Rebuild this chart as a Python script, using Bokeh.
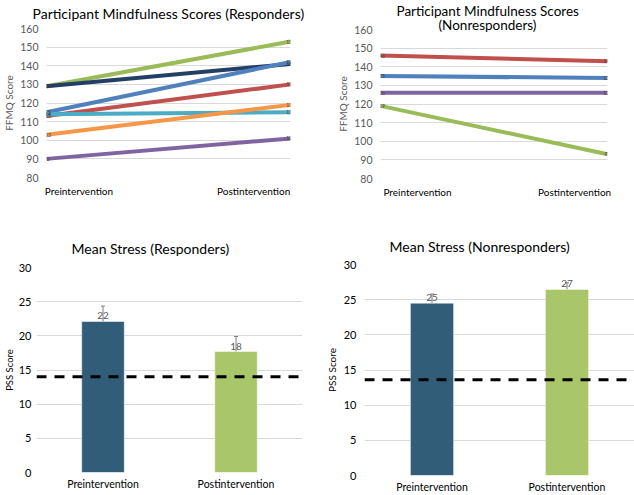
from bokeh.plotting import figure
from bokeh.layouts import column, row
from bokeh.models import FixedTicker, ColumnDataSource, Span, Whisker, TeeHead, Range1d, FactorRange, Title
from bokeh.core.properties import value
from bokeh.embed import file_html
from bokeh.resources import INLINE

FONT = "Lato"

phases = ["Preintervention", "Postintervention"]

# Mindfulness (FFMQ) scores, responders
resp_pre = [129, 129, 115, 113, 114, 103, 90]
resp_post = [153, 141, 142, 130, 115, 119, 101]
resp_colors = ["#9BBB59", "#243F66", "#4F81BD", "#C0504D", "#4BACC6", "#F79646", "#8064A2"]

# Mindfulness (FFMQ) scores, nonresponders
non_pre = [146, 135, 126, 119]
non_post = [143, 134, 126, 93]
non_colors = ["#C0504D", "#4F81BD", "#8064A2", "#9BBB59"]

# Mean stress (PSS)
stress_resp_mean = [22.1, 17.7]
stress_resp_err = [2.25, 2.2]
stress_resp_labels = ["22", "18"]
stress_resp_cutoff = 14.0

stress_non_mean = [24.5, 26.45]
stress_non_err = [1.3, 0.95]
stress_non_labels = ["25", "27"]
stress_non_cutoff = 13.6

bar_colors = ["#325D79", "#A9C66A"]

ffmq_ticks = [80, 90, 100, 110, 120, 130, 140, 150, 160]
pss_ticks = [0, 5, 10, 15, 20, 25, 30]


def style(p, ylabel, ticks, lab_standoff, tick_standoff, ylab_size):
    p.outline_line_color = None
    p.background_fill_color = "white"
    p.border_fill_color = "white"
    p.xgrid.grid_line_color = None
    p.ygrid.grid_line_color = "#D9D9D9"
    p.ygrid.grid_line_width = 1
    p.yaxis.ticker = FixedTicker(ticks=ticks)
    for ax in p.axis:
        ax.axis_line_color = None
        ax.major_tick_line_color = None
        ax.minor_tick_line_color = None
        ax.major_tick_out = 0
        ax.major_tick_in = 0
        ax.minor_tick_out = 0
        ax.minor_tick_in = 0
        ax.major_label_text_font = FONT
        ax.axis_label_text_font = FONT
        ax.axis_label_text_font_style = "normal"
    p.xaxis.major_label_text_font_size = "10px"
    p.yaxis.major_label_text_font_size = "10.5px"
    p.yaxis.major_label_text_color = "#595959"
    p.yaxis.axis_label = ylabel
    p.yaxis.axis_label_text_font_size = ylab_size
    p.yaxis.axis_label_text_color = "#595959"
    p.yaxis.axis_label_standoff = lab_standoff
    p.yaxis.major_label_standoff = tick_standoff
    p.xaxis.major_label_text_color = "#000000"


def make_title(text, size, offset, standoff, valign):
    return Title(text=text, text_font=FONT, text_font_style="normal",
                 text_font_size=size, text_color="#000000", align="left",
                 offset=offset, standoff=standoff, vertical_align=valign)


def line_chart(titles, pre, post, colors, w, h, borders, tick_pos, lab_so, tick_so):
    p = figure(width=w, height=h, output_backend="svg", toolbar_location=None,
               x_range=Range1d(0, 1), y_range=Range1d(80, 160), title=None,
               min_border_left=borders[0], min_border_right=borders[1],
               min_border_top=borders[2], min_border_bottom=borders[3])
    style(p, "FFMQ Score", ffmq_ticks, lab_so, tick_so, "10px")
    # titles listed from the one nearest the plot upwards
    for text, size, offset, standoff, valign in titles:
        p.add_layout(make_title(text, size, offset, standoff, valign), "above")
    p.xaxis.ticker = FixedTicker(ticks=tick_pos)
    p.xaxis.major_label_overrides = {tick_pos[0]: phases[0], tick_pos[1]: phases[1]}
    p.xaxis.major_label_standoff = 7
    for a, b, c in zip(pre, post, colors):
        p.line(x=[0, 1], y=[a, b], line_color=c, line_width=4)
    src = ColumnDataSource(dict(
        x=[0] * len(pre) + [1] * len(post),
        y=list(pre) + list(post),
        t=[str(v) for v in pre] + [str(v) for v in post]))
    p.text(x="x", y="y", text="t", source=src, text_font=value(FONT),
           text_font_size="5px", text_color="#404040",
           text_align="center", text_baseline="middle")
    return p


def bar_chart(title, means, errs, labels, cutoff, w, h, borders, offset, standoff,
              lab_so, tick_so, ylab_size):
    p = figure(width=w, height=h, output_backend="svg", toolbar_location=None,
               x_range=FactorRange(*phases, range_padding=0), y_range=Range1d(0, 30),
               title=None,
               min_border_left=borders[0], min_border_right=borders[1],
               min_border_top=borders[2], min_border_bottom=borders[3])
    style(p, "PSS Score", pss_ticks, lab_so, tick_so, ylab_size)
    p.add_layout(make_title(title, "14px", offset, standoff, "top"), "above")
    p.xaxis.major_label_standoff = 5
    p.xaxis.major_label_text_font_size = "10.5px"
    p.yaxis.major_label_text_font_size = "11px"
    p.yaxis.axis_label_text_color = "#000000"
    p.yaxis.major_label_text_color = "#000000"
    src = ColumnDataSource(dict(
        x=phases, top=means, color=bar_colors,
        upper=[m + e for m, e in zip(means, errs)],
        lower=[m - e for m, e in zip(means, errs)],
        lab=labels))
    p.vbar(x="x", top="top", width=0.32, color="color", source=src,
           line_color="white", line_width=0.5)
    p.add_layout(Span(location=cutoff, dimension="width", line_color="black",
                      line_width=3, line_dash="10 8"))
    p.add_layout(Whisker(source=src, base="x", upper="upper", lower="lower",
                         line_color="#7F7F7F", line_width=1,
                         upper_head=TeeHead(size=4, line_color="#7F7F7F", line_width=1),
                         lower_head=TeeHead(size=4, line_color="#7F7F7F", line_width=1)))
    p.text(x="x", y="top", text="lab", source=src, text_font=value(FONT),
           text_font_size="10px", text_color="#595959", text_align="center",
           text_baseline="bottom", y_offset=-2)
    return p


p1 = line_chart([("Participant Mindfulness Scores (Responders)", "14px", -14, 9, "top")],
                resp_pre, resp_post, resp_colors, 317, 218, (42, 27, 28, 41),
                [0.133, 0.849], 2, 8)
p2 = line_chart([("(Nonresponders)", "13.5px", 58, -7, "bottom"),
                 ("Participant Mindfulness Scores", "13.5px", 16, 0, "bottom")],
                non_pre, non_post, non_colors, 317, 218, (63, 27, 29, 40),
                [0.163, 0.855], 2, 8)
p3 = bar_chart("Mean Stress (Responders)", stress_resp_mean, stress_resp_err,
               stress_resp_labels, stress_resp_cutoff, 317, 277, (32, 15, 49, 23),
               35, 17, 1, 5, "9.5px")
p4 = bar_chart("Mean Stress (Nonresponders)", stress_non_mean, stress_non_err,
               stress_non_labels, stress_non_cutoff, 317, 277, (47, 0, 46, 18),
               25, 15, 3, 8, "10px")

layout = column(row(column(p1), column(p2)), row(column(p3), column(p4)))
open("out.html", "w").write(file_html(layout, INLINE))
